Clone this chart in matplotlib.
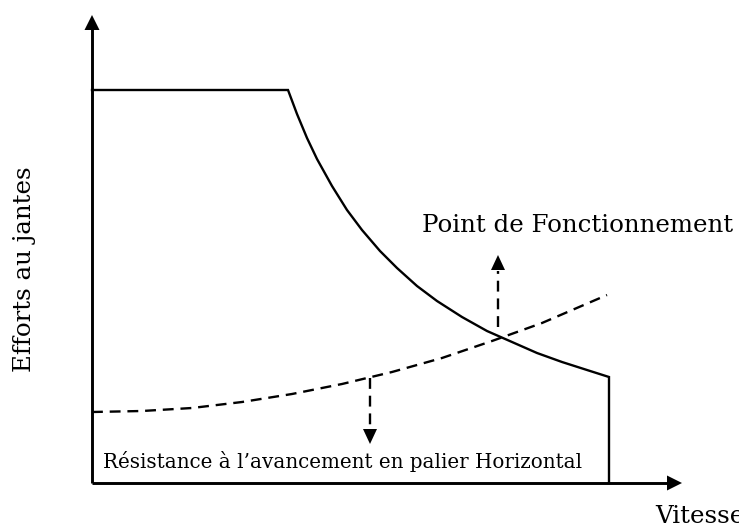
import matplotlib
matplotlib.use("Agg")
import matplotlib.pyplot as plt
from matplotlib.patches import Polygon

# Traction effort at the wheel rim versus speed (arbitrary units)
speed_traction = [0, 196, 205, 215, 225, 240, 255, 270, 288, 305, 325, 345, 370,
                  395, 420, 445, 470, 495, 517, 517]
effort_traction = [393, 393, 369, 345, 324, 297, 273, 253, 232, 215, 197, 182, 166,
                   152, 141, 130, 121, 113, 106, 0]

# Rolling resistance on level road versus speed
speed_resistance = [0, 50, 100, 150, 200, 250, 300, 350, 400, 450, 515]
effort_resistance = [71, 72, 75, 81, 89, 99, 111, 125, 142, 160, 188]

# Operating point and the point of the resistance curve that is annotated
operating_point = (408, 146)
resistance_point = (278, 105)

label_x = "Vitesse"
label_y = "Efforts au jantes"
label_op = "Point de Fonctionnement"
label_res = "Résistance à l’avancement en palier Horizontal"

FONT = "DejaVu Serif"
DASH = (0, (4.6, 2.9))

fig = plt.figure(figsize=(7.39, 5.27), dpi=100)
ax = fig.add_axes([0, 0, 1, 1])
ax.set_xlim(-92, 647)
ax.set_ylim(-44, 483)
ax.axis("off")


def head(tip, direction, length=15, width=14):
    """Filled triangular arrow head; direction is (dx, dy) unit vector."""
    dx, dy = direction
    bx, by = tip[0] - dx * length, tip[1] - dy * length
    px, py = -dy * width / 2, dx * width / 2
    ax.add_patch(Polygon([tip, (bx + px, by + py), (bx - px, by - py)],
                         closed=True, color="black", lw=0, zorder=5))


# Axes with arrows
x_end, y_end = 590, 468
ax.plot([0, 0], [0, y_end - 12], color="black", lw=2.1, solid_capstyle="butt")
ax.plot([0, x_end - 12], [0, 0], color="black", lw=2.1, solid_capstyle="butt")
head((0, y_end), (0, 1), length=15, width=15)
head((x_end, 0), (1, 0), length=15, width=15)

# Curves
ax.plot(speed_traction, effort_traction, color="black", lw=1.7,
        solid_joinstyle="miter")
ax.plot(speed_resistance, effort_resistance, color="black", lw=1.7,
        linestyle=DASH)

# Dashed annotation arrows
ox, oy = operating_point
ax.plot([ox - 2, ox - 2], [oy + 10, oy + 66], color="black", lw=1.7,
        linestyle=DASH)
head((ox - 2, oy + 82), (0, 1), length=15, width=14)

rx, ry = resistance_point
ax.plot([rx, rx], [ry, ry - 52], color="black", lw=1.7, linestyle=DASH)
head((rx, ry - 66), (0, -1), length=15, width=14)

fig.canvas.draw()
renderer = fig.canvas.get_renderer()


def fitted_text(x, y, s, width_px, **kw):
    t = ax.text(x, y, s, family=FONT, fontsize=20, **kw)
    w = t.get_window_extent(renderer).width
    t.set_fontsize(20 * width_px / w)
    return t


t_op = fitted_text(330, 251, label_op, 311, ha="left", va="baseline")
fitted_text(11, 15, label_res, 477, ha="left", va="baseline")
ax.text(563, -40, label_x, family=FONT, fontsize=t_op.get_fontsize(),
        ha="left", va="baseline")
ax.text(-67, 111, label_y, family=FONT, fontsize=t_op.get_fontsize(),
        rotation=90, ha="center", va="bottom")

fig.savefig("out.png", dpi=100)
